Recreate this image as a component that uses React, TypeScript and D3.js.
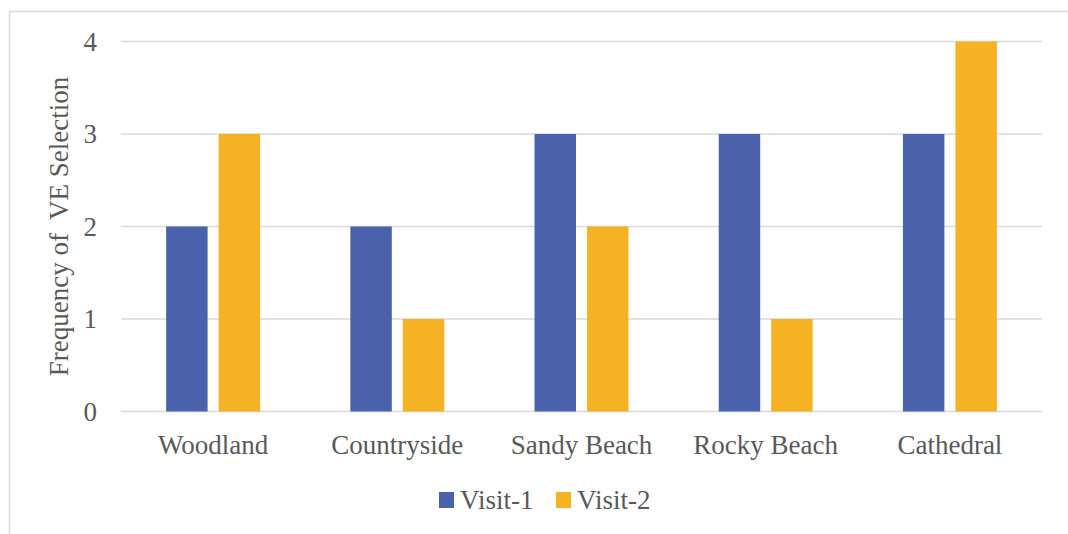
import React from "react";
import * as d3 from "d3";

const categories = ["Woodland", "Countryside", "Sandy Beach", "Rocky Beach", "Cathedral"];
const seriesNames = ["Visit-1", "Visit-2"];
const visit1 = [2, 2, 3, 3, 3];
const visit2 = [3, 1, 2, 1, 4];
const yTicks = [0, 1, 2, 3, 4];
const seriesColors = ["#4A61AB", "#F5B324"];

const W = 1068;
const H = 534;
const FONT = "'Liberation Serif', 'Times New Roman', serif";
const FS = 27;
const TEXT = "#595959";
const GRID = "#D9D9D9";

export default function App() {
  const plotLeft = 121;
  const plotRight = 1042;
  const plotTop = 41.5;
  const plotBottom = 411.5;

  const x0 = d3.scaleBand<string>().domain(categories).range([plotLeft, plotRight]).padding(0);
  const x1 = d3
    .scaleBand<string>()
    .domain(seriesNames)
    .range([0, x0.bandwidth()])
    .paddingInner(0.21)
    .paddingOuter(0.86);
  const y = d3.scaleLinear().domain([0, 4]).range([plotBottom, plotTop]);

  const values = [visit1, visit2];

  return (
    <svg
      width={W}
      height={H}
      style={{ position: "absolute", left: 0, top: 0, background: "#fff" }}
      fontFamily={FONT}
    >
      <rect x={9.5} y={11.5} width={W + 20} height={H + 20} fill="#fff" stroke={GRID} strokeWidth={1.5} />

      {yTicks.map((t) => (
        <g key={t}>
          <line x1={plotLeft} x2={plotRight} y1={y(t)} y2={y(t)} stroke={GRID} strokeWidth={1.6} />
          <text x={97} y={y(t)} dy="0.35em" textAnchor="end" fontSize={FS} fill={TEXT}>
            {t}
          </text>
        </g>
      ))}

      {categories.map((c, i) => (
        <g key={c} transform={`translate(${x0(c)},0)`}>
          {seriesNames.map((s, si) => (
            <rect
              key={s}
              x={x1(s)}
              y={y(values[si][i])}
              width={x1.bandwidth()}
              height={y(0) - y(values[si][i])}
              fill={seriesColors[si]}
            />
          ))}
          <text
            x={x0.bandwidth() / 2}
            y={454}
            textAnchor="middle"
            fontSize={FS}
            fill={TEXT}
          >
            {c}
          </text>
        </g>
      ))}

      <text
        transform={`translate(68,${(plotTop + plotBottom) / 2}) rotate(-90)`}
        textAnchor="middle"
        fontSize={FS}
        fill={TEXT}
        style={{ whiteSpace: "pre" }}
      >
        {"Frequency of  VE Selection"}
      </text>

      {seriesNames.map((s, si) => {
        const lx = [439, 556][si];
        return (
          <g key={s}>
            <rect x={lx} y={492} width={15} height={16} fill={seriesColors[si]} />
            <text x={lx + 21} y={509} fontSize={FS} fill={TEXT}>
              {s}
            </text>
          </g>
        );
      })}
    </svg>
  );
}
